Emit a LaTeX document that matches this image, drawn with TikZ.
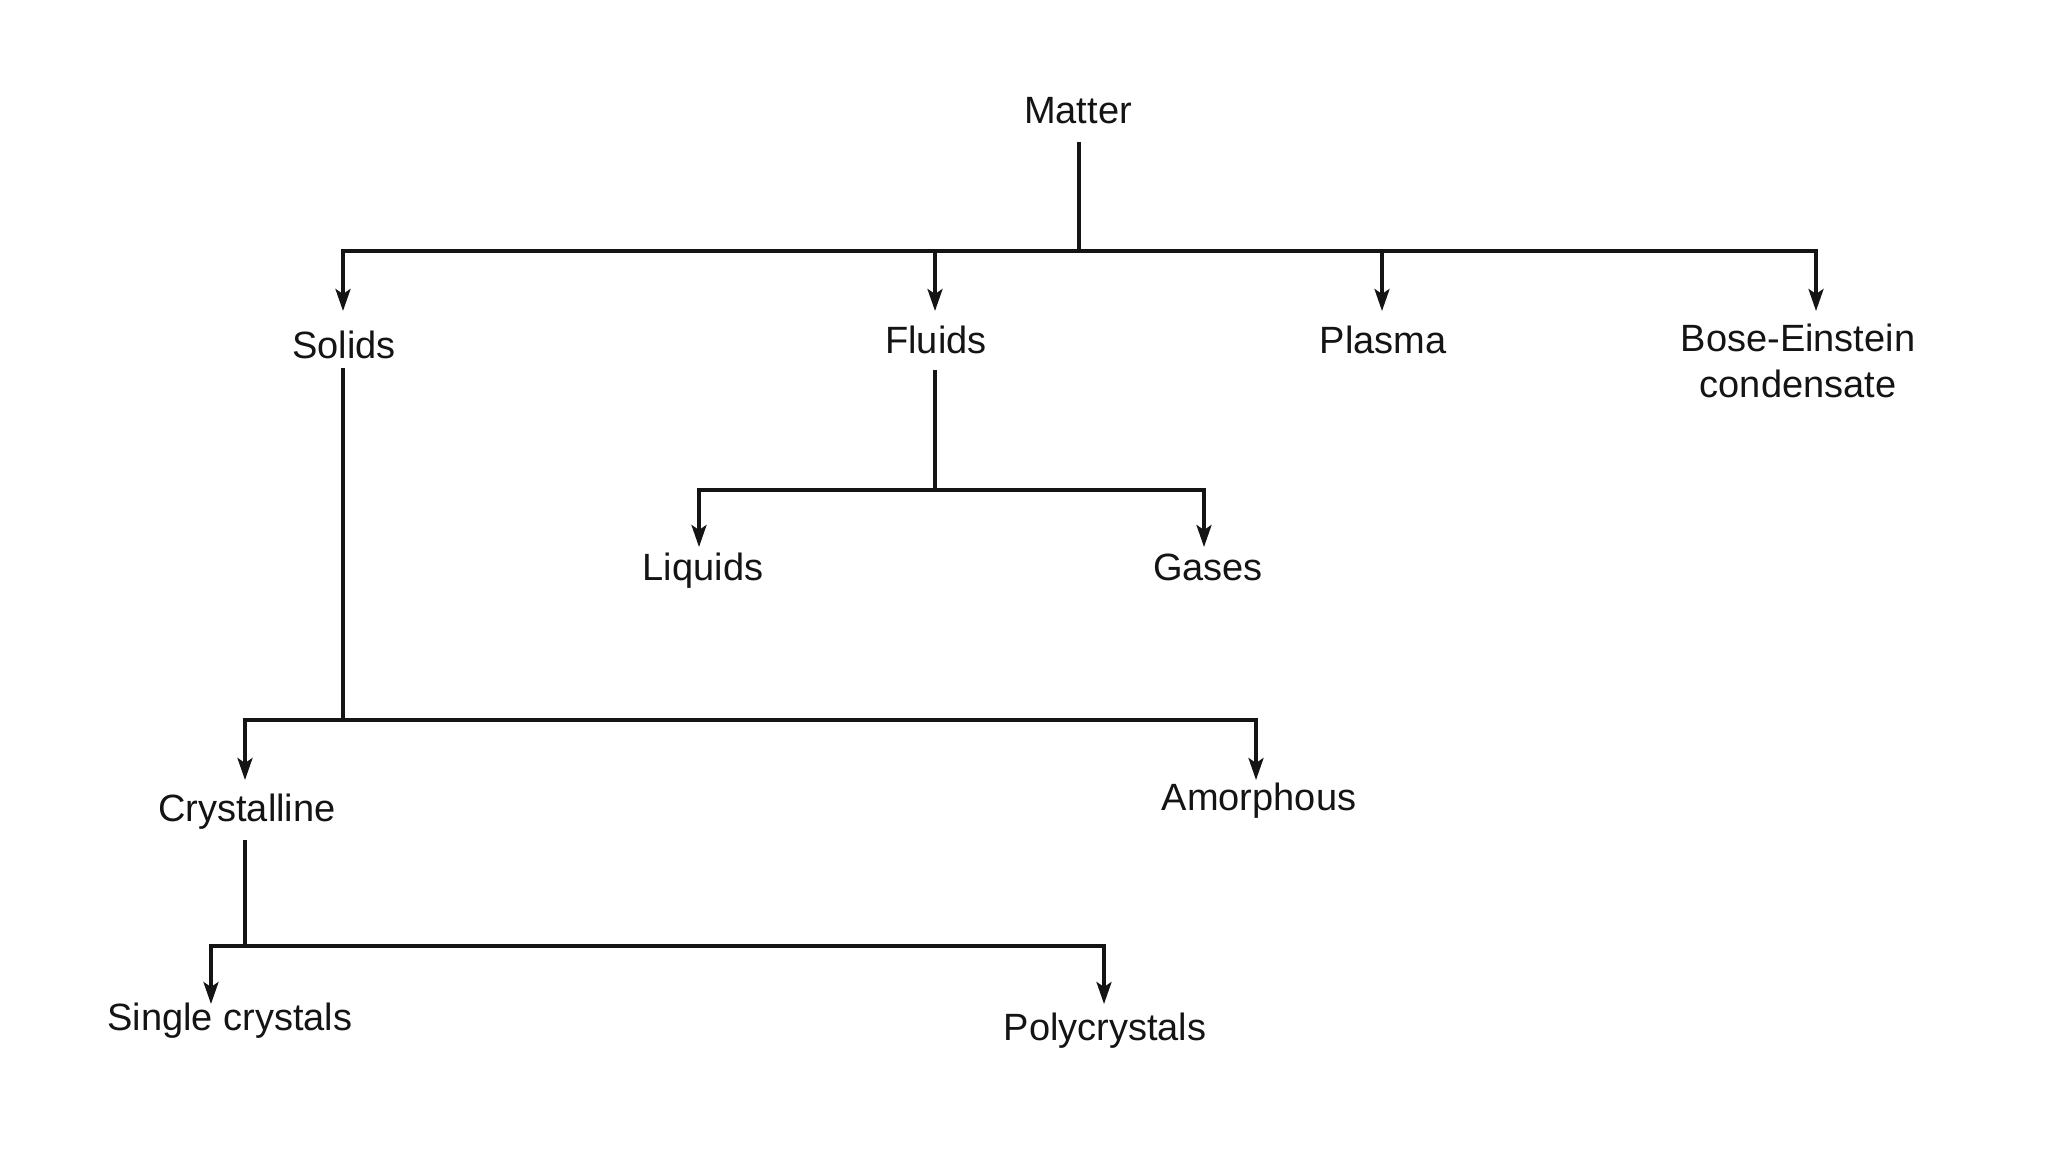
\documentclass[tikz,border=0pt]{standalone}
\usepackage{fontspec}
\setmainfont{Liberation Sans}
\usetikzlibrary{arrows.meta}
\begin{document}
\begin{tikzpicture}[x=0.5pt,y=-0.5pt,
  lbl/.style={inner sep=0pt, anchor=base, font=\fontsize{19}{23}\selectfont, text=black!92, align=center},
  ln/.style={line width=1.7pt, draw=black!92},
  arr/.style={ln, -{Stealth[length=11pt,width=7.5pt,inset=2.5pt]}}]
\useasboundingbox[fill=white] (0,0) rectangle (2048,1152);
% labels
\node[lbl] (matter) at (1078,123) {Matter};
\node[lbl] (solids) at (344,358) {Solids};
\node[lbl] (fluids) at (936,353) {Fluids};
\node[lbl] (plasma) at (1383,353) {Plasma};
\node[lbl] (bec) at (1798,351) {Bose-Einstein};
\node[lbl] (bec2) at (1798,397) {condensate};
\node[lbl] (liquids) at (703,580) {Liquids};
\node[lbl] (gases) at (1208,580) {Gases};
\node[lbl] (cryst) at (247,821) {Crystalline};
\node[lbl] (amorph) at (1259,810) {Amorphous};
\node[lbl] (single) at (230,1030) {Single crystals};
\node[lbl] (poly) at (1105,1040) {Polycrystals};
% connector points
\coordinate (m-out) at (1079,142);
\coordinate (j1) at (1079,251);
\coordinate (solids-in) at (343,311);
\coordinate (fluids-in) at (935,311);
\coordinate (plasma-in) at (1382,311);
\coordinate (bec-in) at (1816,311);
\coordinate (s-out) at (343,368);
\coordinate (f-out) at (935,370);
\coordinate (j2) at (935,490);
\coordinate (liquids-in) at (699,547);
\coordinate (gases-in) at (1204,547);
\coordinate (j3) at (343,720);
\coordinate (cryst-in) at (245,780);
\coordinate (amorph-in) at (1256,780);
\coordinate (c-out) at (245,840);
\coordinate (j4) at (245,946);
\coordinate (single-in) at (211,1004);
\coordinate (poly-in) at (1104,1004);
% connectors
\draw[ln] (m-out) -- (j1);
\draw[arr] (j1) -| (solids-in);
\draw[arr] (j1) -| (fluids-in);
\draw[arr] (j1) -| (plasma-in);
\draw[arr] (j1) -| (bec-in);
\draw[ln] (f-out) -- (j2);
\draw[arr] (j2) -| (liquids-in);
\draw[arr] (j2) -| (gases-in);
\draw[ln] (s-out) -- (j3);
\draw[arr] (j3) -| (cryst-in);
\draw[arr] (j3) -| (amorph-in);
\draw[ln] (c-out) -- (j4);
\draw[arr] (j4) -| (single-in);
\draw[arr] (j4) -| (poly-in);
\end{tikzpicture}
\end{document}
